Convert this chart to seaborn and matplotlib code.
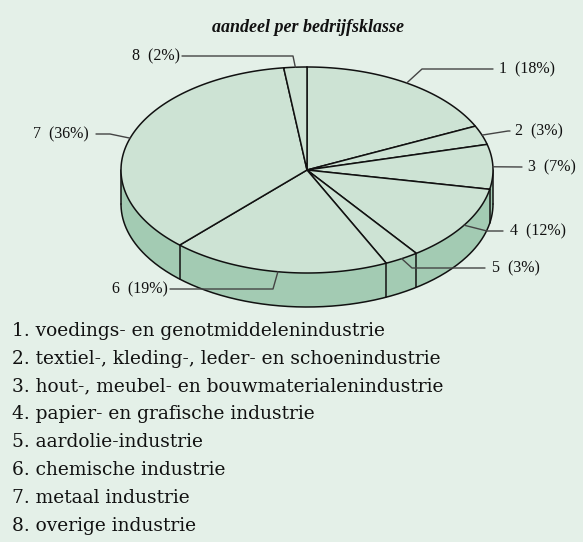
import numpy as np
import matplotlib
matplotlib.use("Agg")
import matplotlib.pyplot as plt
from matplotlib.patches import Polygon
import seaborn as sns

# ---- data ----
categories = ["1", "2", "3", "4", "5", "6", "7", "8"]
shares = [18, 3, 7, 12, 3, 19, 36, 2]
legend_labels = [
    "1. voedings- en genotmiddelenindustrie",
    "2. textiel-, kleding-, leder- en schoenindustrie",
    "3. hout-, meubel- en bouwmaterialenindustrie",
    "4. papier- en grafische industrie",
    "5. aardolie-industrie",
    "6. chemische industrie",
    "7. metaal industrie",
    "8. overige industrie",
]
title = "aandeel per bedrijfsklasse"

# ---- style / layout ----
sns.set_style("white")
BG = "#e4f0e8"
TOP = "#cde3d4"
SIDE = "#a3cbb3"
EDGE = "#111111"
LEAD = "#444444"

W, H = 583, 542
fig = plt.figure(figsize=(W / 100, H / 100), dpi=100, facecolor=BG)
ax = fig.add_axes([0, 0, 1, 1])
ax.set_facecolor(BG)
ax.set_xlim(0, W)
ax.set_ylim(H, 0)
ax.axis("off")

cx, cy, a, b, depth = 307, 170, 186, 103, 34


def pt(theta_deg, dy=0.0):
    t = np.radians(theta_deg)
    return cx + a * np.sin(t), cy - b * np.cos(t) + dy


vals = np.array(shares, dtype=float)
bounds = np.concatenate([[0], np.cumsum(vals) / vals.sum() * 360])

# side walls (front half: 90..270 deg clockwise from top)
for i in range(len(vals)):
    t0, t1 = max(bounds[i], 90), min(bounds[i + 1], 270)
    if t1 <= t0:
        continue
    ts = np.linspace(t0, t1, 80)
    upper = [pt(t) for t in ts]
    lower = [pt(t, depth) for t in ts[::-1]]
    ax.add_patch(Polygon(upper + lower, closed=True, facecolor=SIDE,
                         edgecolor="none", zorder=1))
# side outline
ts = np.linspace(90, 270, 200)
xs, ys = zip(*[pt(t, depth) for t in ts])
ax.plot(xs, ys, color=EDGE, lw=1.1, zorder=2)
for t in sorted(set([90, 270] + [bb for bb in bounds if 90 <= bb <= 270])):
    (x0, y0), (x1, y1) = pt(t), pt(t, depth)
    ax.plot([x0, x1], [y0, y1], color=EDGE, lw=1.1, zorder=2)

# top wedges
for i in range(len(vals)):
    ts = np.linspace(bounds[i], bounds[i + 1], 120)
    poly = [(cx, cy)] + [pt(t) for t in ts]
    ax.add_patch(Polygon(poly, closed=True, facecolor=TOP,
                         edgecolor=EDGE, lw=1.1, zorder=3))

# leader lines and labels (elbow point, end x, text x, alignment)
leaders = [
    ((422, 69), 493, 499, "left"),
    ((508, 131), 510, 515, "left"),
    ((522, 167), 522, 528, "left"),
    ((487, 231), 503, 510, "left"),
    ((412, 268), 485, 492, "left"),
    ((273, 289), 170, 168, "right"),
    ((110, 134), 96, 89, "right"),
    ((293, 56), 182, 180, "right"),
]
for i, (elbow, xend, xtxt, ha) in enumerate(leaders):
    mid = (bounds[i] + bounds[i + 1]) / 2
    sx, sy = pt(mid)
    ax.plot([sx, elbow[0], xend], [sy, elbow[1], elbow[1]],
            color=LEAD, lw=1.0, zorder=4)
    ax.text(xtxt, elbow[1], f"{categories[i]}  ({shares[i]}%)",
            ha=ha, va="center", fontsize=11.5,
            family="Liberation Serif", color="#111111", zorder=5)

ax.text(308, 27, title, ha="center", va="center", fontsize=13,
        family="Liberation Serif", style="italic", weight="bold",
        color="#111111")

for i, lab in enumerate(legend_labels):
    ax.text(12, 331 + 27.8 * i, lab, ha="left", va="center",
            fontsize=13.4, family="DejaVu Serif", color="#111111")

fig.savefig("out.png", dpi=100, facecolor=BG)
